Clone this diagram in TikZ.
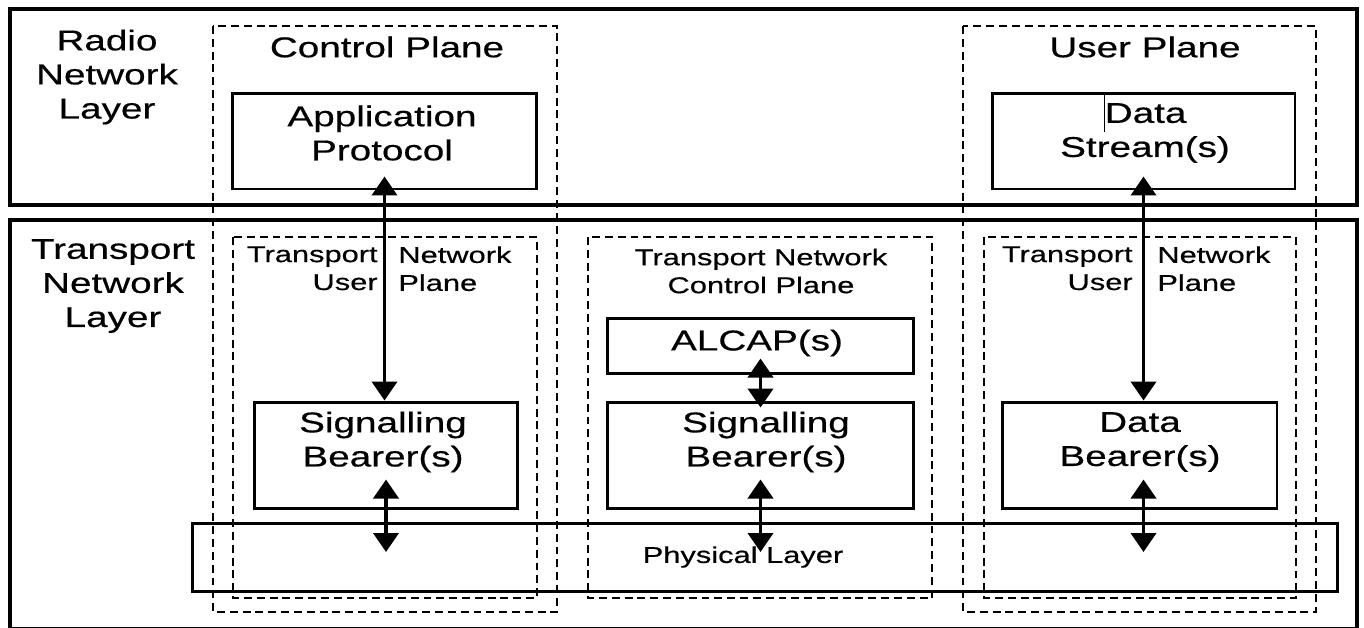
\documentclass[tikz,border=0pt]{standalone}
\usepackage{fontspec}
\usepackage{tikz}
\usetikzlibrary{arrows.meta,calc}
\newfontfamily\arialwide{Liberation Sans}[FakeStretch=1.35,FakeBold=0.5]

\tikzset{
  layerbox/.style={line width=2.5pt},
  planebox/.style={dashed,line width=0.8pt,dash pattern=on 4.5pt off 2.8pt},
  protobox/.style={draw,line width=1.7pt,rectangle,inner sep=0pt},
  bigtxt/.style={font=\arialwide\fontsize{16.3}{19.4}\selectfont,align=center,inner sep=0pt},
  smalltxt/.style={font=\arialwide\fontsize{13}{15.9}\selectfont,inner sep=0pt},
  dblarrow/.style={{Triangle[width=0.5cm,length=0.38cm]}-{Triangle[width=0.5cm,length=0.38cm]},line width=2.2pt}
}

\begin{document}
\begin{tikzpicture}[x=0.02cm,y=-0.02cm]
  \useasboundingbox (0,0) rectangle (1364,627);
  % the two layers
  \draw[layerbox] (10,9) rectangle (1357,205);
  \draw[layerbox] (10,220) rectangle (1357,629);
  \node[bigtxt] (rnl) at (107,77) {Radio\\Network\\Layer};
  \node[bigtxt] (tnl) at (113,286) {Transport\\Network\\Layer};

  % planes
  \draw[planebox] (213,26) rectangle (557,612);
  \draw[planebox] (963,26) rectangle (1316,612);
  \draw[planebox] (233,237) rectangle (537,598);
  \draw[planebox] (588,237) rectangle (932,598);
  \draw[planebox] (984,237) rectangle (1296,598);
  \node[bigtxt] (cplane) at (387,47) {Control Plane};
  \node[bigtxt] (uplane) at (1145,47) {User Plane};
  \node[smalltxt,anchor=north east,align=right] (tnupla) at (378,246) {Transport\\User};
  \node[smalltxt,anchor=north west,align=left] (tnuplb) at (398,246) {Network\\Plane};
  \node[smalltxt,align=center] (tncp) at (761,271) {Transport Network\\Control Plane};
  \node[smalltxt,anchor=north east,align=right] (tnupra) at (1133,246) {Transport\\User};
  \node[smalltxt,anchor=north west,align=left] (tnuprb) at (1157,246) {Network\\Plane};

  % protocol boxes
  \node[protobox,minimum width=6.1cm,minimum height=1.92cm] (app) at (384.5,141) {};
  \node[protobox,minimum width=6.06cm,minimum height=1.92cm] (dstream) at (1143.5,141) {};
  \node[protobox,minimum width=5.28cm,minimum height=2.12cm] (sigl) at (386,455) {};
  \node[protobox,minimum width=6.14cm,minimum height=1.1cm] (alcap) at (760.5,345.5) {};
  \node[protobox,minimum width=6.14cm,minimum height=2.12cm] (sigm) at (760.5,455) {};
  \node[protobox,minimum width=5.5cm,minimum height=2.12cm] (dbear) at (1139.5,455) {};
  \node[protobox,minimum width=22.9cm,minimum height=1.36cm] (phys) at (765,557) {};

  \node[bigtxt] (apptxt) at (382,133) {Application\\Protocol};
  \node[bigtxt] (dstxt) at (1145,133) {\smash{\rule[-5pt]{0.7pt}{21pt}}Data\\Stream(s)};
  \node[bigtxt] (sigltxt) at (383,442) {Signalling\\Bearer(s)};
  \node[bigtxt] (alcaptxt) at (757,343) {ALCAP(s)};
  \node[bigtxt] (sigmtxt) at (766,442) {Signalling\\Bearer(s)};
  \node[bigtxt] (dbeartxt) at (1140,442) {Data\\Bearer(s)};
  \node[smalltxt] (phystxt) at (743,557) {Physical Layer};

  % arrows
  \draw[dblarrow] ([yshift=0.28cm]app.south) -- (app.south |- sigl.north);
  \draw[dblarrow] ([yshift=0.6cm]sigl.south) -- ([yshift=0.1cm]sigl.south |- phys.center);
  \draw[dblarrow] ([yshift=0.32cm]alcap.south) -- ([yshift=-0.14cm]alcap.south |- sigm.north);
  \draw[dblarrow] ([yshift=0.6cm]sigm.south) -- ([yshift=0.1cm]sigm.south |- phys.center);
  \draw[dblarrow] ([yshift=0.28cm]dstream.south) -- (dstream.south |- dbear.north);
  \draw[dblarrow] ([yshift=0.6cm]dstream.south |- dbear.south) -- ([yshift=0.1cm]dstream.south |- phys.center);
\end{tikzpicture}
\end{document}
